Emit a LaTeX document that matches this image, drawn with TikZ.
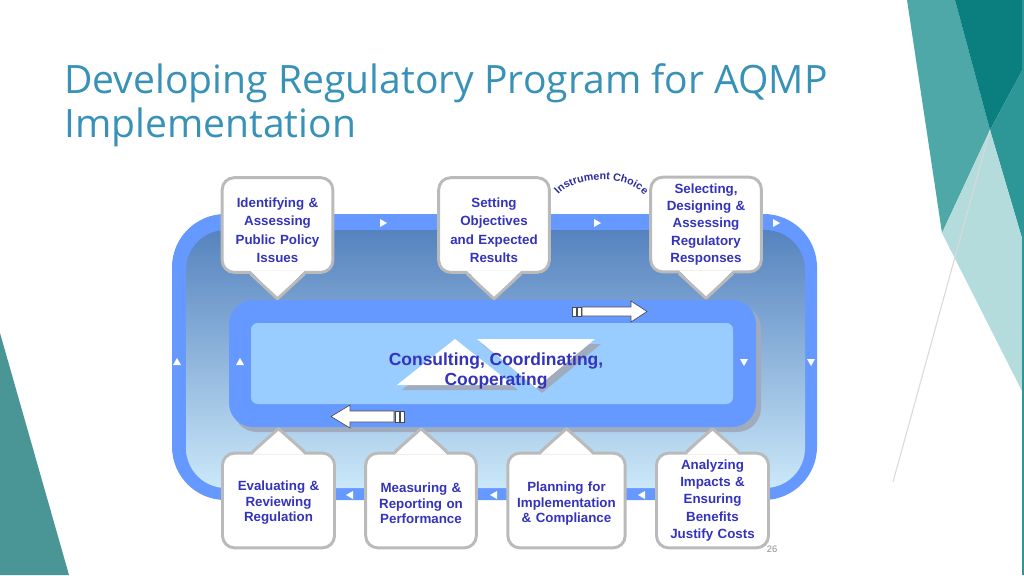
\documentclass[tikz,border=0pt]{standalone}
\usepackage{fontspec}
\setmainfont{Liberation Sans}
\newfontfamily\titlefont{Open Sans}
\usetikzlibrary{positioning,calc,decorations.text}
\definecolor{AzulAnillo}{RGB}{102,153,255}
\definecolor{AzulClaro}{RGB}{153,204,255}
\definecolor{FondoArriba}{RGB}{86,131,191}
\definecolor{FondoAbajo}{RGB}{202,232,249}
\definecolor{TextoAzul}{RGB}{51,51,187}
\definecolor{CalloutGris}{RGB}{186,186,186}
\definecolor{TituloAzul}{RGB}{56,146,184}
\definecolor{Sombra}{RGB}{160,172,190}
\definecolor{TealMedio}{RGB}{78,168,168}
\definecolor{TealOscuro}{RGB}{11,127,127}
\definecolor{TealMixto}{RGB}{45,151,151}
\definecolor{TealPalido}{RGB}{181,220,220}
\definecolor{TealIzq}{RGB}{74,149,149}
\tikzset{
  callbox/.style={draw=CalloutGris, line width=2.2pt, fill=white, rounded corners=9pt,
    align=center, text width=#1, minimum height=71pt, text=TextoAzul,
    font=\fontsize{10}{12.8}\selectfont\bfseries, inner sep=2pt},
  callbox/.default=79pt,
  pico/.style={draw=CalloutGris, line width=2.2pt, line join=round},
  flechablanca/.style={draw=black!70, line width=0.5pt, fill=white},
  marca/.style={fill=white},
  titulo/.style={anchor=base west, inner sep=0pt, text=TituloAzul,
    font=\titlefont\fontsize{29.3}{33}\selectfont},
}
\newcommand{\bajar}[1]{\rule{0pt}{#1}}

\begin{document}
\begin{tikzpicture}[x=0.75pt, y=-0.75pt]
  \useasboundingbox (0,0) rectangle (1024,575);
  % ---- slide decoration ----
  \fill[TealMedio] (907,0) -- (955,0) -- (990,130) -- (942,233) -- cycle;
  \fill[TealOscuro] (955,0) -- (1024,0) -- (1024,67) -- (990,130) -- cycle;
  \fill[TealMixto] (990,130) -- (1024,67) -- (1024,245) -- cycle;
  \fill[TealPalido] (942,233) -- (990,130) -- (1024,245) -- (1024,395) -- cycle;
  \draw[black!15, line width=0.8pt] (990,130) -- (893,482);
  \draw[TealMixto, line width=1.2pt] (1023,0) -- (1023,575);
  \fill[TealIzq] (0,333) -- (69,575) -- (0,575) -- cycle;
  \node[titulo] (t1) at (64,93) {Developing Regulatory Program for AQMP};
  \node[titulo] (t2) at (64,137) {Implementation};
  % ---- outer cycle ----
  \fill[AzulAnillo, rounded corners=40pt] (172,214) rectangle (817,500);
  \shade[top color=FondoArriba, bottom color=FondoAbajo, rounded corners=30pt]
    (186,230) rectangle (805,488);
  % ---- inner cycle ----
  \fill[Sombra, rounded corners=18pt] (233,305) rectangle (761,432);
  \fill[AzulAnillo, rounded corners=18pt] (229,300) rectangle (756,427);
  \fill[AzulClaro, rounded corners=5pt] (251,323) rectangle (733,404);
  \fill[Sombra] (402,390) -- (459,344) -- (518,390) -- cycle;
  \fill[Sombra] (482,344) -- (601,344) -- (542,393) -- cycle;
  \fill[white] (397,385) -- (455,339) -- (513,385) -- cycle;
  \fill[white] (477,339) -- (595,339) -- (536,388) -- cycle;
  \node[text=TextoAzul, align=center, font=\fontsize{13.1}{15}\selectfont\bfseries]
    (nucleo) at (496,371) {Consulting, Coordinating,\\Cooperating};
  % block arrows
  \draw[flechablanca] (582,307) -- (631,307) -- (631,301) -- (647,311.5) -- (631,322)
    -- (631,316) -- (582,316) -- cycle;
  \draw[flechablanca] (572,307) rectangle (576,316) (577,307) rectangle (581,316);
  \draw[flechablanca] (394,411) -- (350,411) -- (350,405) -- (331,416.5) -- (350,428)
    -- (350,422) -- (394,422) -- cycle;
  \draw[flechablanca] (395,411) rectangle (399,422) (400,411) rectangle (404,422);
  % small marks on the rings
  \foreach \x/\y/\a in {383/223/0, 597/223/0, 776/223/0, 177/362/90, 240/362/90,
      744/362/-90, 811/362/-90, 350/495/180, 494/495/180, 642/495/180}
    \fill[marca, shift={(\x,\y)}, rotate=\a] (-3,-4) -- (4,0) -- (-3,4) -- cycle;
  % ---- callouts, top ----
  \node[callbox, font=\fontsize{10}{13.9}\selectfont\bfseries] (b1) at (277.5,225)
    {\bajar{15pt}Identifying \&\\Assessing\\Public Policy\\Issues};
  \node[callbox, font=\fontsize{10}{13.9}\selectfont\bfseries] (b2) at (494,225)
    {\bajar{15pt}Setting\\Objectives\\and Expected\\Results};
  \node[callbox] (b3) at (706,224.5) {Selecting,\\Designing \&\\Assessing\\Regulatory\\Responses};
  \foreach \b in {b1,b2,b3} {
    \fill[white] ($(\b.south)+(-27,-3)$) -- ($(\b.south)+(0,25)$) -- ($(\b.south)+(27,-3)$) -- cycle;
    \draw[pico] ($(\b.south)+(-27,0)$) -- ($(\b.south)+(0,25)$) -- ($(\b.south)+(27,0)$);
  }
  % ---- callouts, bottom ----
  \node[callbox=80pt, font=\fontsize{10}{11.6}\selectfont\bfseries] (b4) at (278.5,500.5)
    {\bajar{11pt}Evaluating \&\\Reviewing\\Regulation};
  \node[callbox, font=\fontsize{10}{11.6}\selectfont\bfseries] (b5) at (421,500.5)
    {\bajar{12pt}Measuring \&\\Reporting on\\Performance};
  \node[callbox=84pt, font=\fontsize{10}{11.6}\selectfont\bfseries] (b6) at (566.5,500.5)
    {\bajar{12pt}Planning for\\Implementation\\\& Compliance};
  \node[callbox=80pt] (b7) at (712.5,500.5) {Analyzing\\Impacts \&\\Ensuring\\Benefits\\Justify Costs};
  \foreach \b in {b4,b5,b6,b7} {
    \fill[white] ($(\b.north)+(-26,3)$) -- ($(\b.north)+(0,-23)$) -- ($(\b.north)+(26,3)$) -- cycle;
    \draw[pico] ($(\b.north)+(-26,0)$) -- ($(\b.north)+(0,-23)$) -- ($(\b.north)+(26,0)$);
  }
  % ---- arc label ----
  \path[decorate, decoration={text along path, text align=center, text color=TextoAzul!85!black,
      text={|\fontsize{8}{9}\selectfont\bfseries|Instrument Choice}}]
    (553,203) .. controls (567,172) and (635,172) .. (650,203);
  \node[text=black!45, font=\fontsize{7}{8}\selectfont] (pagina) at (772,549) {26};
\end{tikzpicture}
\end{document}
